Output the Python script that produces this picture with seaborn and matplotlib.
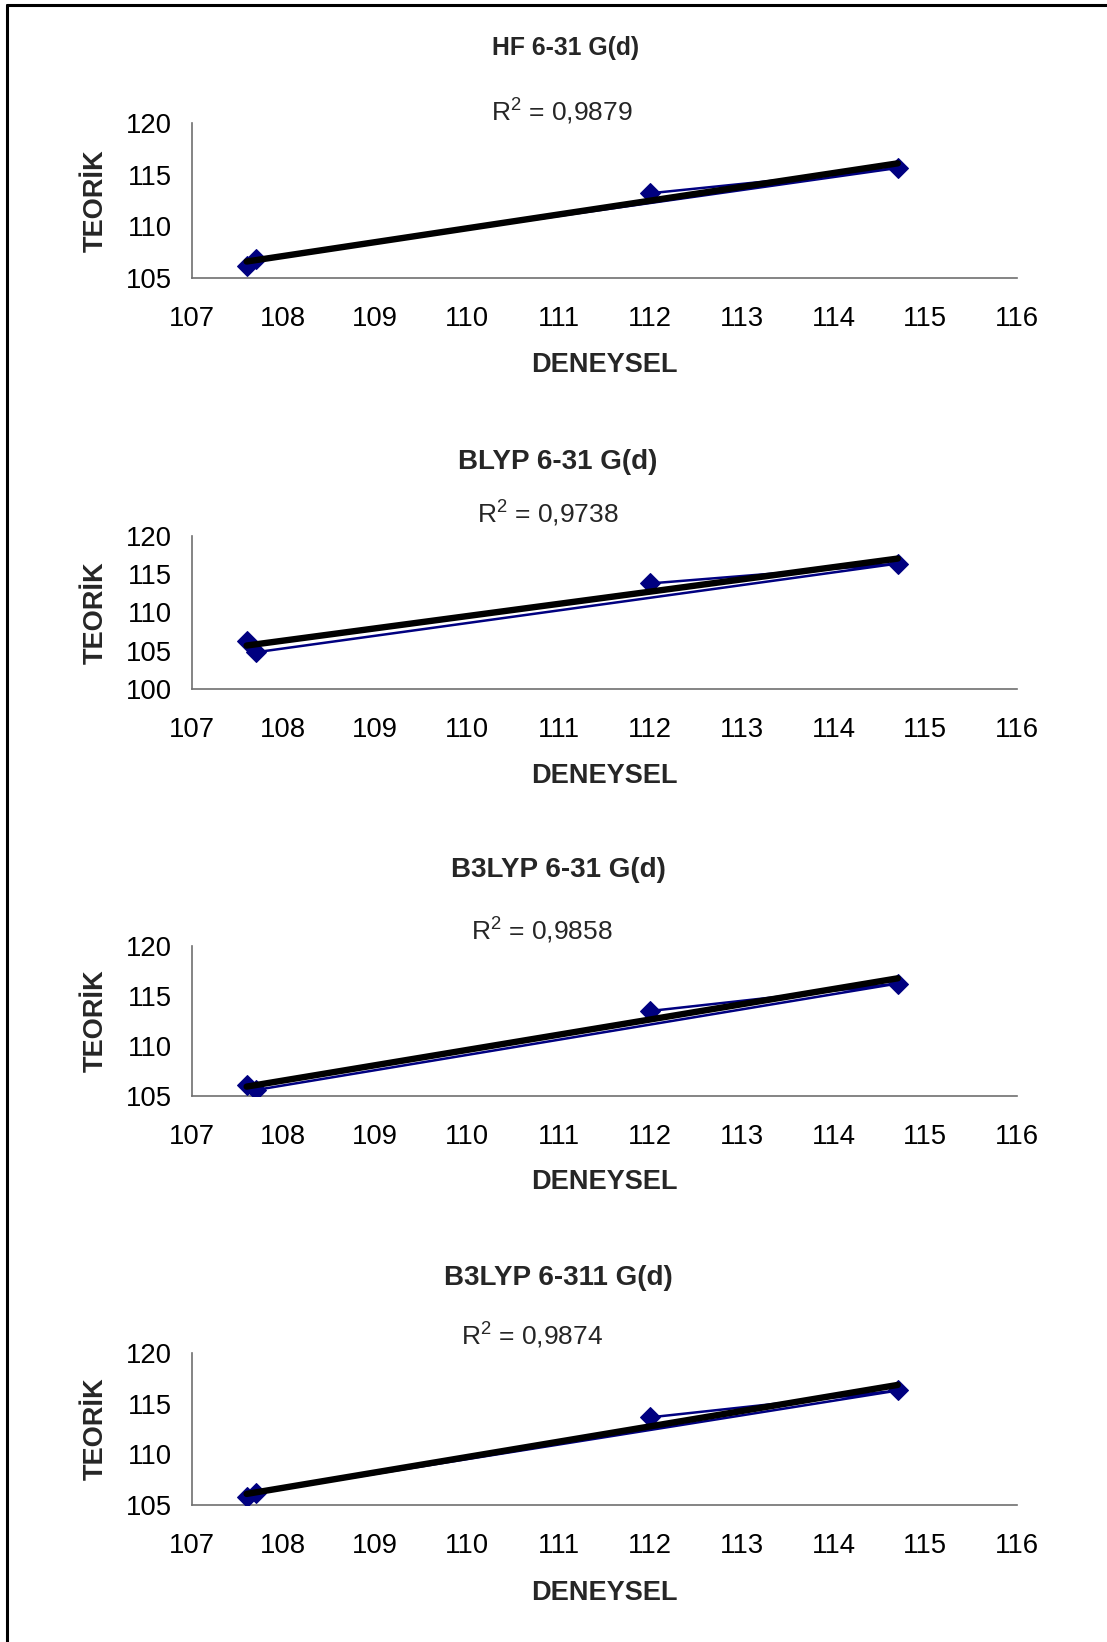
import numpy as np
import pandas as pd
import matplotlib
matplotlib.use("Agg")
import matplotlib.pyplot as plt
from matplotlib.lines import Line2D
import seaborn as sns

# ---------------- data ----------------
deneysel = [112.0, 114.7, 107.7, 107.6]          # experimental values (plot order)
teorik_hf = [113.2, 115.65, 106.85, 106.2]
teorik_blyp = [113.8, 116.4, 104.8, 106.3]
teorik_b3lyp_631 = [113.5, 116.25, 105.6, 106.1]
teorik_b3lyp_6311 = [113.65, 116.3, 106.2, 105.8]

titles = ["HF 6-31 G(d)", "BLYP 6-31 G(d)", "B3LYP 6-31 G(d)", "B3LYP 6-311 G(d)"]
r2_labels = ["0,9879", "0,9738", "0,9858", "0,9874"]
y_limits = [(105, 120), (100, 120), (105, 120), (105, 120)]
x_ticks = [107, 108, 109, 110, 111, 112, 113, 114, 115, 116]
series = [teorik_hf, teorik_blyp, teorik_b3lyp_631, teorik_b3lyp_6311]

# ---------------- style ----------------
sns.set_theme(style="white")
plt.rcParams["font.family"] = ["Liberation Sans", "DejaVu Sans"]
plt.rcParams["mathtext.fontset"] = "custom"
plt.rcParams["mathtext.rm"] = "Liberation Sans"
plt.rcParams["mathtext.default"] = "regular"

W, H = 1107, 1642
fig = plt.figure(figsize=(W / 100, H / 100), dpi=100)
fig.patch.set_facecolor("white")

# layout in pixels (top of axes, bottom of axes, title x, title y, title size, R2 y, R2 x, xlabel y)
layout = [
    (123, 278, 566, 48, 17.8, 112, 562, 365),
    (536, 689, 558, 462, 20.0, 514, 548, 776),
    (946, 1096, 558, 870, 20.0, 931, 542, 1182),
    (1353, 1505, 558, 1278, 20.0, 1336, 532, 1593),
]
ax_left, ax_right = 191.6, 1017.0
navy = "#000080"
spine_col = "#707070"

for i, (top, bot, tx, ty, tsize, ry, rx, xly) in enumerate(layout):
    ax = fig.add_axes([ax_left / W, 1 - bot / H, (ax_right - ax_left) / W, (bot - top) / H])
    df = pd.DataFrame({"DENEYSEL": deneysel, "TEORIK": series[i]})
    sns.lineplot(data=df, x="DENEYSEL", y="TEORIK", sort=False, estimator=None,
                 color=navy, linewidth=1.8, marker="D", markersize=10,
                 markeredgecolor=navy, markerfacecolor=navy, ax=ax, zorder=3)
    sns.regplot(data=df, x="DENEYSEL", y="TEORIK", scatter=False, ci=None,
                truncate=True, color="black", line_kws={"linewidth": 4.6, "zorder": 4},
                ax=ax)
    ax.set_xlim(107, 116)
    ax.set_ylim(*y_limits[i])
    ax.set_xticks(x_ticks)
    ax.set_yticks(np.arange(y_limits[i][0], y_limits[i][1] + 1, 5))
    for s in ["top", "right"]:
        ax.spines[s].set_visible(False)
    for s in ["left", "bottom"]:
        ax.spines[s].set_color(spine_col)
        ax.spines[s].set_linewidth(1.2)
    ax.tick_params(axis="both", direction="out", length=6, width=1.0, color=spine_col,
                   labelsize=19.8, labelcolor="black")
    ax.tick_params(axis="x", pad=14)
    ax.tick_params(axis="y", pad=8)
    ax.set_xlabel("DENEYSEL", fontsize=19.5, fontweight="bold", va="center")
    ax.set_ylabel("TEORİK", fontsize=19.5, fontweight="bold", va="center")
    hpx = bot - top
    ax.xaxis.set_label_coords((604 - ax_left) / (ax_right - ax_left), -(xly - bot) / hpx)
    ax.yaxis.set_label_coords((96 - ax_left) / (ax_right - ax_left), 0.5)
    ax.grid(False)
    ax.set_facecolor("white")
    fig.text(tx / W, 1 - ty / H, titles[i], ha="center", va="center",
             fontsize=tsize, fontweight="bold")
    fig.text(rx / W, 1 - ry / H, "R$^2$ = " + r2_labels[i], ha="center", va="center",
             fontsize=19)

# border (top and left)
fig.add_artist(Line2D([7 / W, 7 / W], [0, 1 - 5.5 / H], transform=fig.transFigure,
                      color="black", linewidth=2.2))
fig.add_artist(Line2D([7 / W, 1], [1 - 5.5 / H, 1 - 5.5 / H], transform=fig.transFigure,
                      color="black", linewidth=2.2))

fig.savefig("out.png", dpi=100)
